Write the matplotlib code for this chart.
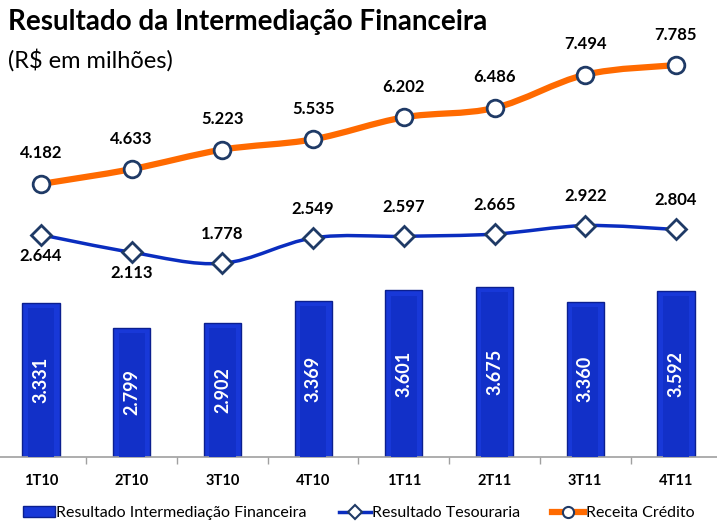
import numpy as np
import matplotlib.pyplot as plt
from matplotlib.path import Path
from matplotlib.patches import PathPatch
from matplotlib.lines import Line2D
from matplotlib.patches import Patch

# data
quarters = ["1T10", "2T10", "3T10", "4T10", "1T11", "2T11", "3T11", "4T11"]
intermediacao = [3331, 2799, 2902, 3369, 3601, 3675, 3360, 3592]
tesouraria = [2644, 2113, 1778, 2549, 2597, 2665, 2922, 2804]
receita_credito = [4182, 4633, 5223, 5535, 6202, 6486, 7494, 7785]
# label placement for the treasury series: True = below the point
tesouraria_below = [True, True, False, False, False, False, False, False]

plt.rcParams['font.family'] = ['Lato', 'DejaVu Sans']

BAR_BLUE = "#1838D8"
BAR_EDGE = "#0B1F8F"
BAR_INNER = "#1230C8"
ORANGE = "#FF6A00"
LINE_BLUE = "#0A2DBF"
NAVY = "#1F3A66"


def smooth_path(xs, ys):
    # cubic bezier through the points (like Excel's smoothed line)
    pts = np.column_stack([xs, ys]).astype(float)
    n = len(pts)
    verts = [pts[0]]
    codes = [Path.MOVETO]
    for i in range(n - 1):
        p0 = pts[max(i - 1, 0)]
        p1 = pts[i]
        p2 = pts[i + 1]
        p3 = pts[min(i + 2, n - 1)]
        c1 = p1 + (p2 - p0) / 6.0
        c2 = p2 - (p3 - p1) / 6.0
        verts += [c1, c2, p2]
        codes += [Path.CURVE4] * 3
    return Path(verts, codes)


def fmt(v):
    return f"{v:,}".replace(",", ".")


fig = plt.figure(figsize=(7.17, 5.22), dpi=100)
x = np.arange(len(quarters))
xlim = (-0.452, 7.453)

# ---- bars (bottom axes)
ax_bar = fig.add_axes([0, 0.1245, 1, 0.3545])
ax_bar.bar(x, intermediacao, width=0.41, color=BAR_BLUE, edgecolor=BAR_EDGE, linewidth=1.0, zorder=2)
ax_bar.bar(x, np.array(intermediacao) - 110, width=0.29, color=BAR_INNER, linewidth=0, zorder=3)
for xi, v in zip(x, intermediacao):
    ax_bar.text(xi, v / 2, fmt(v), rotation=90, ha='center', va='center',
                color='white', fontsize=13, fontweight='bold', zorder=4)
ax_bar.set_xlim(*xlim)
ax_bar.set_ylim(0, 4000)
for s in ['top', 'left', 'right']:
    ax_bar.spines[s].set_visible(False)
ax_bar.spines['bottom'].set_color('#A0A0A0')
ax_bar.spines['bottom'].set_linewidth(1.2)
ax_bar.set_yticks([])
ax_bar.set_xticks(x)
ax_bar.set_xticklabels(quarters, fontsize=10.5, fontweight='bold')
ax_bar.tick_params(axis='x', which='major', length=0, pad=12)
ax_bar.set_xticks(x[:-1] + 0.5, minor=True)
ax_bar.tick_params(axis='x', which='minor', length=5, color='#A0A0A0', width=1)
ax_bar.patch.set_alpha(0)

# ---- lines (upper axes, own scale)
ax_line = fig.add_axes([0, 0.3831, 1, 0.5374])
ax_line.set_xlim(*xlim)
ax_line.set_ylim(0, 8500)
ax_line.axis('off')

ax_line.add_patch(PathPatch(smooth_path(x, receita_credito), facecolor='none', edgecolor=ORANGE,
                            linewidth=4.5, capstyle='round', zorder=2))
ax_line.plot(x, receita_credito, linestyle='none', marker='o', markersize=12,
             markerfacecolor='white', markeredgecolor=NAVY, markeredgewidth=2, zorder=3)
for xi, v in zip(x, receita_credito):
    ax_line.annotate(fmt(v), (xi, v), xytext=(0, 22), textcoords='offset points',
                     ha='center', va='center', fontsize=12, fontweight='bold')

ax_line.add_patch(PathPatch(smooth_path(x, tesouraria), facecolor='none', edgecolor=LINE_BLUE,
                            linewidth=2.5, zorder=2))
ax_line.plot(x, tesouraria, linestyle='none', marker='D', markersize=10.5,
             markerfacecolor='white', markeredgecolor=NAVY, markeredgewidth=2, zorder=3)
for xi, v, below in zip(x, tesouraria, tesouraria_below):
    dy = -15 if below else 21
    ax_line.annotate(fmt(v), (xi, v), xytext=(0, dy), textcoords='offset points',
                     ha='center', va='center', fontsize=12, fontweight='bold')

# ---- titles
fig.text(0.011, 0.957, "Resultado da Intermediação Financeira", fontsize=20, fontweight='bold',
         ha='left', va='center')
fig.text(0.011, 0.885, "(R$ em milhões)", fontsize=17, ha='left', va='center')

# ---- legend
handles = [
    Patch(facecolor=BAR_BLUE, edgecolor=BAR_EDGE),
    Line2D([], [], color=LINE_BLUE, linewidth=2.5, marker='D', markersize=7,
           markerfacecolor='white', markeredgecolor=NAVY, markeredgewidth=1.5),
    Line2D([], [], color=ORANGE, linewidth=4.5, marker='o', markersize=8,
           markerfacecolor='white', markeredgecolor=NAVY, markeredgewidth=1.5),
]
labels = ["Resultado Intermediação Financeira", "Resultado Tesouraria", "Receita Crédito"]
fig.legend(handles, labels, loc='center', bbox_to_anchor=(0.5, 0.017), ncol=3, frameon=False,
           fontsize=11.5, handlelength=2.0, handletextpad=0.1, columnspacing=2.0, borderaxespad=0)

fig.savefig("out.png", dpi=100)
